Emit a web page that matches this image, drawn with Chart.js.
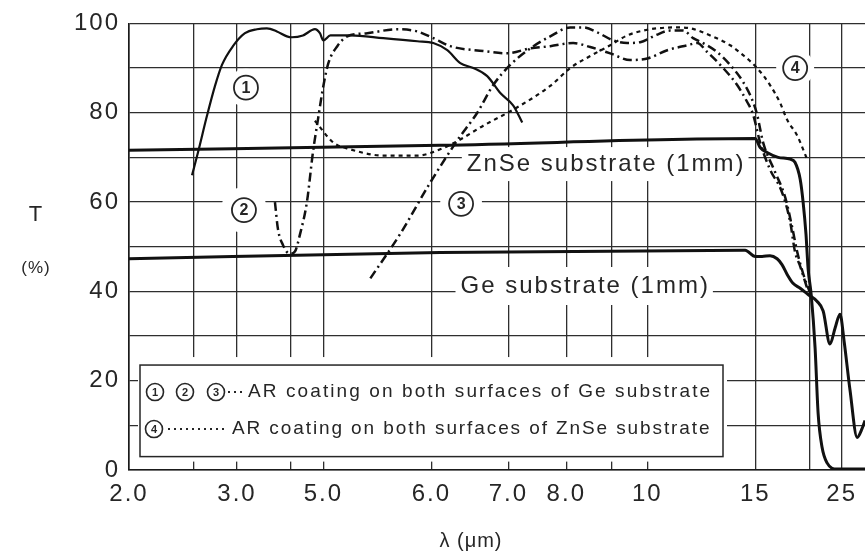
<!DOCTYPE html>
<html>
<head>
<meta charset="utf-8">
<script src="https://cdn.jsdelivr.net/npm/chart.js@4/dist/chart.umd.min.js"></script>
<style>
  html, body { margin: 0; padding: 0; background: #fff; }
  canvas { display: block; }
</style>
</head>
<body>
<canvas id="chart" width="865" height="555"></canvas>
<script>
// wavelength (um) / transmission (%)
const znseLam = [2.0, 6.10, 15.0, 15.35, 15.87, 16.78, 17.89, 18.38, 18.94, 19.27, 19.61, 19.86, 20.24, 20.75, 21.16, 21.72, 22.47, 24.15, 30.5];
const znseT   = [71.6, 72.7, 74.2, 72.2, 71.1, 70.0, 69.6, 68.9, 65.1, 60.0, 52.7, 45.1, 39.3, 27.3, 12.7, 5.1, 1.6, 0.2, 0.2];

const geLam = [2.0, 6.10, 14.33, 15.0, 15.49, 16.1, 16.69, 17.12, 17.6, 18.18, 18.94, 19.86, 21.0, 21.88, 22.94, 23.8, 24.69, 25.48, 26.74, 28.4, 29.7, 30.5];
const geT   = [47.3, 48.7, 49.2, 47.8, 47.8, 48.0, 47.3, 46.0, 43.8, 41.8, 40.7, 39.3, 37.8, 35.6, 28.2, 31.8, 34.9, 28.9, 17.8, 7.3, 9.3, 11.1];

const ar1Lam = [2.483, 2.541, 2.634, 2.723, 2.805, 2.945, 3.115, 3.306, 3.483, 3.680, 3.902, 4.024, 4.319, 4.694, 4.870, 5.0, 5.055, 5.217, 5.51, 5.848, 6.022, 6.183, 6.34, 6.506, 6.693, 6.879, 7.074, 7.215];
const ar1T   = [66.0, 71.1, 79.3, 86.0, 90.7, 94.9, 97.8, 98.7, 98.9, 98.2, 97.1, 96.9, 97.3, 98.7, 97.8, 96.2, 97.3, 97.3, 96.7, 96.0, 95.6, 94.0, 91.1, 90.0, 88.2, 84.4, 81.6, 77.8];

const ar2Lam = [3.640, 3.702, 3.811, 3.975, 4.100, 4.234, 4.437, 4.627, 4.798, 5.0, 5.039, 5.110, 5.192, 5.364, 5.644, 5.848, 6.022, 6.219, 6.639, 6.982, 7.346, 7.695, 8.139, 8.503, 8.973, 9.50, 10.03, 10.66, 11.41, 11.82, 12.27, 13.06, 13.84, 14.46, 14.85, 15.35, 16.1, 17.12, 17.89, 18.38, 18.94, 19.86];
const ar2T   = [60, 54, 50.4, 48.4, 48.9, 52.7, 60, 71.1, 78.4, 86, 91.1, 94.9, 97.1, 97.8, 98.7, 98.2, 96.7, 94.9, 93.8, 93.3, 94.4, 94.9, 95.6, 94.7, 93.3, 91.8, 92.2, 94.0, 95.1, 95.6, 93.6, 90.0, 86.2, 82.4, 79.6, 73.3, 67.3, 62.2, 55.6, 48.9, 45.6, 40.0];

const ar3Lam = [5.391, 5.674, 5.989, 6.303, 6.558, 6.777, 7.027, 7.346, 7.695, 8.078, 8.349, 8.662, 9.048, 9.416, 9.786, 10.25, 10.76, 11.25, 11.65, 12.08, 12.75, 13.44, 14.20, 14.85, 15.13, 15.57, 16.52, 17.41, 18.09, 18.61, 19.27, 20.11];
const ar3T   = [42.9, 52.9, 64.4, 73.8, 80, 86.2, 90.7, 94.4, 97.1, 99.1, 99.1, 98.0, 96.2, 95.6, 95.8, 97.3, 98.4, 98.4, 96.7, 95.6, 93.6, 90.7, 86.9, 82.4, 79.6, 73.3, 66.7, 61.1, 54.4, 48.9, 44.0, 39.6];

const ar4Lam = [4.694, 5.079, 5.217, 5.51, 5.848, 6.10, 6.34, 6.639, 7.074, 7.695, 8.078, 8.503, 8.973, 9.416, 9.876, 10.32, 11.02, 11.53, 12.41, 13.44, 14.20, 15.13, 16.1, 16.95, 17.6, 18.61, 19.74];
const ar4T   = [78.2, 73.3, 71.8, 70.4, 70.4, 71.8, 74.0, 77.1, 80.7, 86.0, 90.0, 92.7, 95.1, 97.3, 98.4, 98.9, 99.1, 98.9, 97.3, 95.1, 92.9, 90.0, 86.2, 82.2, 78.4, 74.9, 69.6];

// x grid lines and their labels
const gridLam = [2.0, 2.5, 3.0, 4.0, 5.0, 6.0, 7.0, 8.0, 9.0, 10, 15, 20, 25];
const gridText = ['2.0', '', '3.0', '', '5.0', '6.0', '7.0', '8.0', '', '10', '15', '', '25'];
const lamMax = 30.5;

const FONT = "'Liberation Sans', Arial, sans-serif";
const INK = '#262626';

// chart paper of an IR spectrometer: linear in wavenumber,
// expanded 5x below 2000 cm-1
function lamToAxis(lam) {
    const wn = 10000 / lam;
    return wn >= 2000 ? (5000 - wn) / 5 : 600 + (2000 - wn);
}

function series(lam, t) {
    return lam.map((l, i) => ({ x: lamToAxis(l), y: t[i] }));
}

function line(data, width, dash) {
    return {
        data: data,
        borderColor: '#111',
        borderWidth: width,
        borderDash: dash || [],
        pointRadius: 0,
        fill: false,
        cubicInterpolationMode: 'monotone'
    };
}

function circled(ctx, n, x, y, r, clear) {
    ctx.fillStyle = '#fff';
    ctx.beginPath();
    ctx.arc(x, y, clear, 0, Math.PI * 2);
    ctx.fill();
    ctx.strokeStyle = INK;
    ctx.lineWidth = r > 10 ? 1.8 : 1.6;
    ctx.beginPath();
    ctx.arc(x, y, r, 0, Math.PI * 2);
    ctx.stroke();
    ctx.fillStyle = INK;
    ctx.letterSpacing = '0px';
    ctx.font = 'bold ' + Math.round(r * 1.3) + 'px ' + FONT;
    ctx.textAlign = 'center';
    ctx.textBaseline = 'middle';
    ctx.fillText(String(n), x, y + 1);
}

function boxedLabel(ctx, text, cx, cy, halfH) {
    ctx.font = '24px ' + FONT;
    ctx.letterSpacing = '2px';
    const w = ctx.measureText(text).width;
    ctx.fillStyle = '#fff';
    ctx.fillRect(cx - w / 2 - 4, cy - halfH, w + 8, halfH * 2);
    ctx.fillStyle = INK;
    ctx.textAlign = 'center';
    ctx.textBaseline = 'middle';
    ctx.fillText(text, cx + 1, cy);
}

const decorations = {
    id: 'decorations',
    beforeDraw(chart) {
        chart.ctx.letterSpacing = '2px';
    },
    beforeDatasetsDraw(chart) {
        const ctx = chart.ctx;
        const xs = chart.scales.x, ys = chart.scales.y;
        const px = l => xs.getPixelForValue(lamToAxis(l));
        const py = t => ys.getPixelForValue(t);
        ctx.save();

        // legend panel (clears the grid round it)
        const bx = chart.chartArea.left + 11, by = py(23.5);
        const bw = 583, bh = py(3) - by;
        ctx.fillStyle = '#fff';
        ctx.fillRect(bx - 2, by - 8, bw + 6, bh + 13);
        ctx.strokeStyle = INK;
        ctx.lineWidth = 1.5;
        ctx.strokeRect(bx, by, bw, bh);

        const row1 = by + 27, row2 = by + 64;
        circled(ctx, 1, bx + 15, row1, 8.5, 8.5);
        circled(ctx, 2, bx + 45, row1, 8.5, 8.5);
        circled(ctx, 3, bx + 76, row1, 8.5, 8.5);
        circled(ctx, 4, bx + 14, row2, 8.5, 8.5);
        ctx.strokeStyle = INK;
        ctx.lineWidth = 2;
        ctx.setLineDash([2, 4]);
        ctx.beginPath();
        ctx.moveTo(bx + 88, row1); ctx.lineTo(bx + 106, row1);
        ctx.moveTo(bx + 28, row2); ctx.lineTo(bx + 84, row2);
        ctx.stroke();
        ctx.setLineDash([]);
        ctx.fillStyle = INK;
        ctx.font = '19px ' + FONT;
        ctx.letterSpacing = '2.1px';
        ctx.textAlign = 'left';
        ctx.textBaseline = 'middle';
        ctx.fillText('AR coating on both surfaces of Ge substrate', bx + 108, row1);
        ctx.letterSpacing = '1.9px';
        ctx.fillText('AR coating on both surfaces of ZnSe substrate', bx + 92, row2);

        // curve labels
        boxedLabel(ctx, 'ZnSe substrate (1mm)', px(8.85), py(68.5), 17);
        boxedLabel(ctx, 'Ge substrate (1mm)', px(8.37), py(41.2), 19);
        circled(ctx, 1, px(3.13), py(85.6), 12, 19);
        circled(ctx, 2, px(3.10), py(58.2), 12, 23);
        circled(ctx, 3, px(6.35), py(59.6), 12, 21);
        circled(ctx, 4, px(18.4), py(90.0), 12, 19);
        ctx.restore();
    },
    afterDraw(chart) {
        const ctx = chart.ctx;
        ctx.save();
        ctx.fillStyle = INK;
        ctx.textAlign = 'center';
        ctx.textBaseline = 'middle';
        ctx.letterSpacing = '1px';
        ctx.font = '22px ' + FONT;
        ctx.fillText('T', 36, 215);
        ctx.font = '17px ' + FONT;
        ctx.fillText('(%)', 36, 268);
        ctx.font = '20px ' + FONT;
        ctx.fillText('\u03bb (\u03bcm)', 471, 541);
        ctx.restore();
    }
};

new Chart(document.getElementById('chart'), {
    type: 'line',
    data: {
        datasets: [
            line(series(znseLam, znseT), 3),
            line(series(geLam, geT), 3),
            line(series(ar1Lam, ar1T), 2.2),
            line(series(ar2Lam, ar2T), 2.5, [9, 4, 2, 4]),
            line(series(ar3Lam, ar3T), 2.5, [9, 4, 2, 4]),
            line(series(ar4Lam, ar4T), 2.2, [4, 4])
        ]
    },
    options: {
        responsive: false,
        devicePixelRatio: 1,
        animation: false,
        layout: { padding: { top: 20, right: 0, left: 0, bottom: 0 } },
        plugins: {
            legend: { display: false },
            tooltip: { enabled: false }
        },
        scales: {
            x: {
                type: 'linear',
                min: 0,
                max: lamToAxis(lamMax),
                afterFit(scale) { scale.height = 85; },
                afterBuildTicks(scale) {
                    scale.ticks = gridLam.map(l => ({ value: lamToAxis(l) }));
                },
                grid: { color: '#2e2e2e', lineWidth: 1.3, drawTicks: false },
                border: { color: '#1a1a1a', width: 1.6 },
                ticks: {
                    autoSkip: false,
                    maxRotation: 0,
                    padding: 10,
                    color: INK,
                    font: { family: FONT, size: 24 },
                    callback: (v, i) => gridText[i]
                }
            },
            y: {
                min: 0,
                max: 100,
                afterFit(scale) { scale.width = 129; },
                grid: { color: '#2e2e2e', lineWidth: 1.3, drawTicks: false },
                border: { color: '#1a1a1a', width: 1.6 },
                ticks: {
                    stepSize: 10,
                    padding: 9,
                    color: INK,
                    font: { family: FONT, size: 24 },
                    callback: v => (v % 20 === 0 ? String(v) : '')
                }
            }
        }
    },
    plugins: [decorations]
});
</script>
</body>
</html>
